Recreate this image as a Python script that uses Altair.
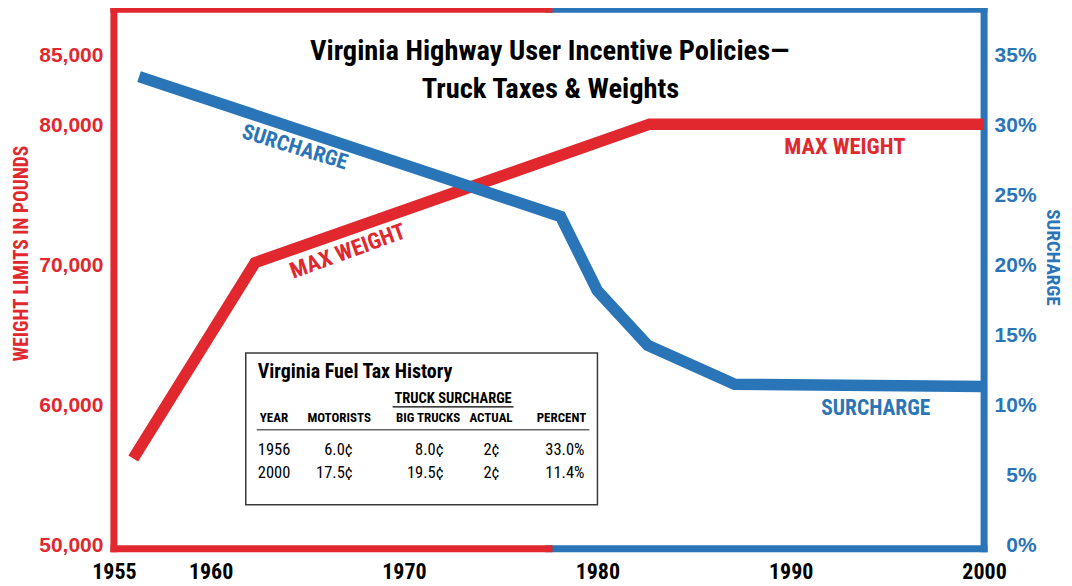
import altair as alt
import pandas as pd

# ---------------- data ----------------
weight_years = [1956, 1962.3, 1982.7, 2000]
max_weight = [56100, 70100, 80000, 80000]

surcharge_years = [1956.3, 1978.1, 1980, 1982.6, 1987.1, 2000]
surcharge_pct = [33.4, 23.4, 18.1, 14.2, 11.4, 11.25]

x_ticks = [1955, 1960, 1970, 1980, 1990, 2000]
weight_ticks = [50000, 60000, 70000, 80000, 85000]
pct_ticks = [0, 5, 10, 15, 20, 25, 30, 35]

title_lines = ["Virginia Highway User Incentive Policies\u2014", "Truck Taxes & Weights"]
table_title = "Virginia Fuel Tax History"
table_group = "TRUCK SURCHARGE"
table_headers = ["YEAR", "MOTORISTS", "BIG TRUCKS", "ACTUAL", "PERCENT"]
table_years = ["1956", "2000"]
table_motorists = ["6.0\u00a2", "17.5\u00a2"]
table_big_trucks = ["8.0\u00a2", "19.5\u00a2"]
table_actual = ["2\u00a2", "2\u00a2"]
table_percent = ["33.0%", "11.4%"]

# ---------------- style ----------------
RED = "#E1282F"
BLUE = "#2A75B8"
NARROW = "Roboto Condensed, Liberation Sans Narrow, Roboto, sans-serif"
WIDE = "Liberation Sans, Arial, sans-serif"

W_MIN, W_MAX = 49643, 88214
P_MIN, P_MAX = (W_MIN - 50000) / 1000, (W_MAX - 50000) / 1000
X_MIN, X_MAX = 1955, 2000
X_MID = (X_MIN + X_MAX) / 2

x_axis = alt.Axis(values=x_ticks, format="d", labelFont=NARROW, labelFontSize=22,
                  labelFontWeight="bold", labelColor="black", ticks=False, domain=False,
                  grid=False, labelPadding=13, labelFlush=False, labelOverlap=False, title=None)
x_scale = alt.Scale(domain=[X_MIN, X_MAX], nice=False, zero=False)

w_axis = alt.Axis(values=weight_ticks, labelExpr="format(datum.value, ',')",
                  labelFont=WIDE, labelFontSize=21,
                  labelFontWeight="bold", labelColor=RED, ticks=False, domain=False,
                  grid=False, labelPadding=11, labelOverlap=False, labelOffset=1.5,
                  title="WEIGHT LIMITS IN POUNDS", titleFont=NARROW, titleFontSize=19.5,
                  titleFontWeight="bold", titleColor=RED, titleX=-92, titleY=244,
                  titleAngle=270, titleAlign="center", titleBaseline="middle")
w_scale = alt.Scale(domain=[W_MIN, W_MAX], nice=False, zero=False)

p_axis = alt.Axis(orient="right", values=pct_ticks, labelExpr="datum.value + '%'",
                  labelFont=WIDE, labelFontSize=21, labelFontWeight="bold", labelColor=BLUE,
                  labelAlign="right", labelPadding=52, ticks=False, domain=False, grid=False,
                  labelOverlap=False, labelOffset=1.5,
                  title="SURCHARGE", titleFont=NARROW, titleFontSize=19, titleFontWeight="bold",
                  titleColor=BLUE, titleX=68, titleY=248, titleAngle=90, titleAlign="center",
                  titleBaseline="middle")
p_scale = alt.Scale(domain=[P_MIN, P_MAX], nice=False, zero=False)

def X(f):
    return alt.X(f, type="quantitative", scale=x_scale, axis=x_axis)

def YW(f):
    return alt.Y(f, type="quantitative", scale=w_scale, axis=w_axis)

def YP(f):
    return alt.Y(f, type="quantitative", scale=p_scale, axis=p_axis)

# ---------------- weight layer ----------------
weight_df = pd.DataFrame({"year": weight_years, "weight": max_weight})
frame_red = pd.DataFrame({
    "x": [X_MIN, X_MIN, X_MIN], "x2": [X_MIN, X_MID, X_MID],
    "y": [W_MIN, W_MAX, W_MIN], "y2": [W_MAX, W_MAX, W_MIN]})
frame_blue = pd.DataFrame({
    "x": [X_MAX, X_MID, X_MID], "x2": [X_MAX, X_MAX, X_MAX],
    "y": [W_MIN, W_MAX, W_MIN], "y2": [W_MAX, W_MAX, W_MIN]})

red_frame = alt.Chart(frame_red).mark_rule(color=RED, strokeWidth=7, strokeCap="square").encode(
    x=X("x"), x2="x2", y=YW("y"), y2="y2")
blue_frame = alt.Chart(frame_blue).mark_rule(color=BLUE, strokeWidth=7, strokeCap="square").encode(
    x=X("x"), x2="x2", y=YW("y"), y2="y2")

red_line = alt.Chart(weight_df).mark_line(color=RED, strokeWidth=11.5, strokeJoin="miter",
                                          strokeCap="butt").encode(x=X("year"), y=YW("weight"))

red_labels_df = pd.DataFrame({"year": [1967.1, 1992.8], "weight": [70900, 78400],
                              "label": ["MAX WEIGHT", "MAX WEIGHT"]})
red_label_rot = alt.Chart(red_labels_df.iloc[[0]]).mark_text(
    font=NARROW, fontSize=22.5, fontWeight="bold", color=RED, angle=340, baseline="middle"
).encode(x=X("year"), y=YW("weight"), text="label")
red_label_flat = alt.Chart(red_labels_df.iloc[[1]]).mark_text(
    font=NARROW, fontSize=22.5, fontWeight="bold", color=RED, baseline="middle"
).encode(x=X("year"), y=YW("weight"), text="label")

weight_layer = alt.layer(blue_frame, red_frame, red_line, red_label_rot, red_label_flat)

# ---------------- surcharge layer ----------------
sur_df = pd.DataFrame({"year": surcharge_years, "pct": surcharge_pct})
blue_line = alt.Chart(sur_df).mark_line(color=BLUE, strokeWidth=11.5, strokeJoin="miter",
                                        strokeCap="butt").encode(x=X("year"), y=YP("pct"))
blue_labels_df = pd.DataFrame({"year": [1964.35, 1994.4], "pct": [28.3, 9.6],
                               "label": ["SURCHARGE", "SURCHARGE"]})
blue_label_rot = alt.Chart(blue_labels_df.iloc[[0]]).mark_text(
    font=NARROW, fontSize=21.5, fontWeight="bold", color=BLUE, angle=17, baseline="middle"
).encode(x=X("year"), y=YP("pct"), text="label")
blue_label_flat = alt.Chart(blue_labels_df.iloc[[1]]).mark_text(
    font=NARROW, fontSize=21.5, fontWeight="bold", color=BLUE, baseline="middle"
).encode(x=X("year"), y=YP("pct"), text="label")

pct_layer = alt.layer(blue_line, blue_label_rot, blue_label_flat)

# ---------------- annotations (title + inset table) ----------------
ONE = alt.Data(values=[{}])

def txt(text, x, y, size, weight="normal", align="left", font=NARROW, color="black"):
    return alt.Chart(ONE).mark_text(text=text, font=font, fontSize=size, fontWeight=weight,
                                    align=align, baseline="alphabetic", color=color).encode(
        x=alt.value(x), y=alt.value(y))

annots = [
    txt(title_lines[0], 436, 51, 28.5, "bold", "center"),
    txt(title_lines[1], 437, 89, 28.5, "bold", "center"),
]

box = alt.Chart(ONE).mark_rect(fill="white", stroke="#3a3a3a", strokeWidth=1.5).encode(
    x=alt.value(132), x2=alt.value(484), y=alt.value(344), y2=alt.value(496))
group_rule = alt.Chart(ONE).mark_rule(color="black", strokeWidth=1.2).encode(
    x=alt.value(279), x2=alt.value(400), y=alt.value(398), y2=alt.value(398))
sep_rule = alt.Chart(ONE).mark_rule(color="#666666", strokeWidth=1.5).encode(
    x=alt.value(143), x2=alt.value(476), y=alt.value(421), y2=alt.value(421))

table_marks = [box, group_rule, sep_rule,
               txt(table_title, 144, 369, 20, "bold"),
               txt(table_group, 339.5, 394, 14.5, "bold", "center")]

header_x = [146, 225.5, 314.5, 377.5, 448]
header_align = ["left", "center", "center", "center", "center"]
for h, hx, ha in zip(table_headers, header_x, header_align):
    table_marks.append(txt(h, hx, 413, 13, "bold", ha))

row_y = [446.5, 469]
columns = [(table_years, 144, "left"), (table_motorists, 239, "right"),
           (table_big_trucks, 330, "right"), (table_actual, 386, "right"),
           (table_percent, 471, "right")]
for values, cx, ca in columns:
    for v, ry in zip(values, row_y):
        table_marks.append(txt(v, cx, ry, 16.5, "normal", ca))

chart = alt.layer(
    weight_layer, pct_layer, *annots, *table_marks
).resolve_scale(y="independent").properties(
    width=871, height=540,
    padding={"left": 106, "top": 1, "right": 80, "bottom": 36},
    autosize=alt.AutoSizeParams(type="none"),
).configure_view(stroke=None).configure(background="white")

chart.save("out.html", embed_options={"renderer": "svg", "actions": False})
